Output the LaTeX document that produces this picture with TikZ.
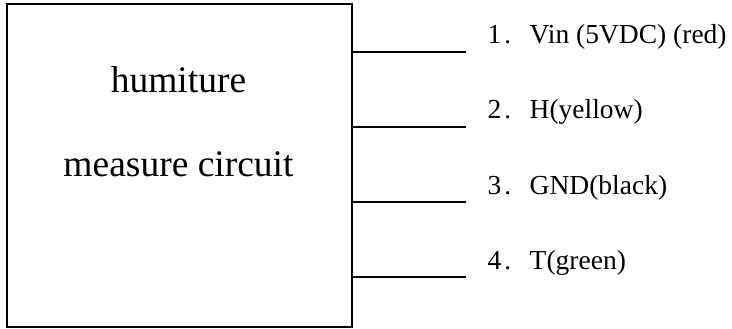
\documentclass[tikz,border=0pt]{standalone}
\usepackage{fontspec}
\setmainfont{Liberation Serif}
\begin{document}
\begin{tikzpicture}[x=1pt,y=-1pt,
  lead/.style={draw=black,line width=2pt},
  pinlabel/.style={anchor=base west,inner sep=0pt,font=\fontsize{27.5}{30}\selectfont},
  bigtext/.style={anchor=base,inner sep=0pt,font=\fontsize{37.5}{42}\selectfont}]
\useasboundingbox (0,0) rectangle (732,329);
\node[draw=black,line width=2pt,outer sep=0pt,minimum width=345pt,minimum height=323pt,inner sep=0pt,anchor=north west] (box) at (7,4.3) {};
\node[bigtext] (t1) at (178.5,93) {humiture};
\node[bigtext] (t2) at (178.5,176) {measure circuit};
\foreach \n/\y in {1/52.4,2/127.4,3/202.4,4/277.4}{
  \coordinate (s\n) at (352,\y);
  \coordinate (e\n) at (466,\y);
  \draw[lead] (s\n) -- (e\n);
}
\node[pinlabel] (l1) at (487.5,44) {1\hspace{3pt}.\hspace{18.4pt}Vin (5VDC) (red)};
\node[pinlabel] (l2) at (487.5,119) {2\hspace{3pt}.\hspace{18.4pt}H(yellow)};
\node[pinlabel] (l3) at (487.5,194) {3\hspace{3pt}.\hspace{18.4pt}GND(black)};
\node[pinlabel] (l4) at (487.5,269) {4\hspace{3pt}.\hspace{18.4pt}T(green)};
\end{tikzpicture}
\end{document}
